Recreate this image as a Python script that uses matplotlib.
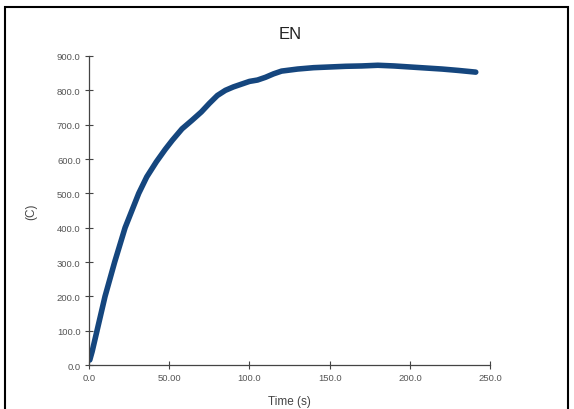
import matplotlib
matplotlib.use("Agg")
import matplotlib.pyplot as plt
from matplotlib.patches import Rectangle

time_s = [0.5, 2, 5, 10, 16, 22.5, 31, 36, 42, 47.5, 52, 58, 64, 70, 75, 80,
          85, 90, 95, 100, 105, 110, 115, 120, 130, 140, 150, 160, 170, 180,
          190, 200, 210, 220, 230, 241]
temp_c = [15, 40, 100, 200, 300, 400, 500, 548, 592, 628, 655, 688, 712, 737,
          762, 785, 800, 810, 818, 826, 830, 838, 848, 856, 862, 866, 868, 870,
          871, 873, 871, 868, 865, 862, 858, 853]

xticks = [0, 50, 100, 150, 200, 250]
xtick_labels = ["0.0", "50.00", "100.0", "150.0", "200.0", "250.0"]
yticks = [0, 100, 200, 300, 400, 500, 600, 700, 800, 900]
ytick_labels = ["0.0", "100.0", "200.0", "300.0", "400.0", "500.0",
                "600.0", "700.0", "800.0", "900.0"]

plt.rcParams['font.family'] = ['Liberation Sans Narrow', 'Liberation Sans', 'DejaVu Sans']

fig = plt.figure(figsize=(5.74, 4.10), dpi=100)
fig.patches.append(Rectangle((5/574, -0.05), 563/574, 1.05 - 8/410,
                             transform=fig.transFigure, fill=False,
                             edgecolor='black', linewidth=1.5))

ax = fig.add_axes([0.155, 0.107, 0.699, 0.754])
ax.plot(time_s, temp_c, color='#15467e', linewidth=4.0, solid_capstyle='round',
        solid_joinstyle='round')
ax.set_xlim(0, 250)
ax.set_ylim(0, 900)
ax.set_xticks(xticks)
ax.set_xticklabels(xtick_labels)
ax.set_yticks(yticks)
ax.set_yticklabels(ytick_labels)
for s in ['top', 'right']:
    ax.spines[s].set_visible(False)
for s in ['left', 'bottom']:
    ax.spines[s].set_color('#444444')
    ax.spines[s].set_linewidth(0.9)
ax.tick_params(direction='inout', length=6, width=0.8, color='#444444',
               labelsize=6.8, labelcolor='#555555', pad=3)
ax.set_xlabel("Time (s)", fontsize=8.5, color='#444444', labelpad=9,
              family=['Liberation Sans', 'DejaVu Sans'])
ax.set_ylabel("(C)", fontsize=8.5, color='#444444', labelpad=14,
              family=['Liberation Sans', 'DejaVu Sans'])
fig.text(0.505, 0.915, "EN", ha='center', va='center', fontsize=12,
         family=['Liberation Sans', 'DejaVu Sans'], color='#222222')

fig.savefig("out.png", dpi=100)
